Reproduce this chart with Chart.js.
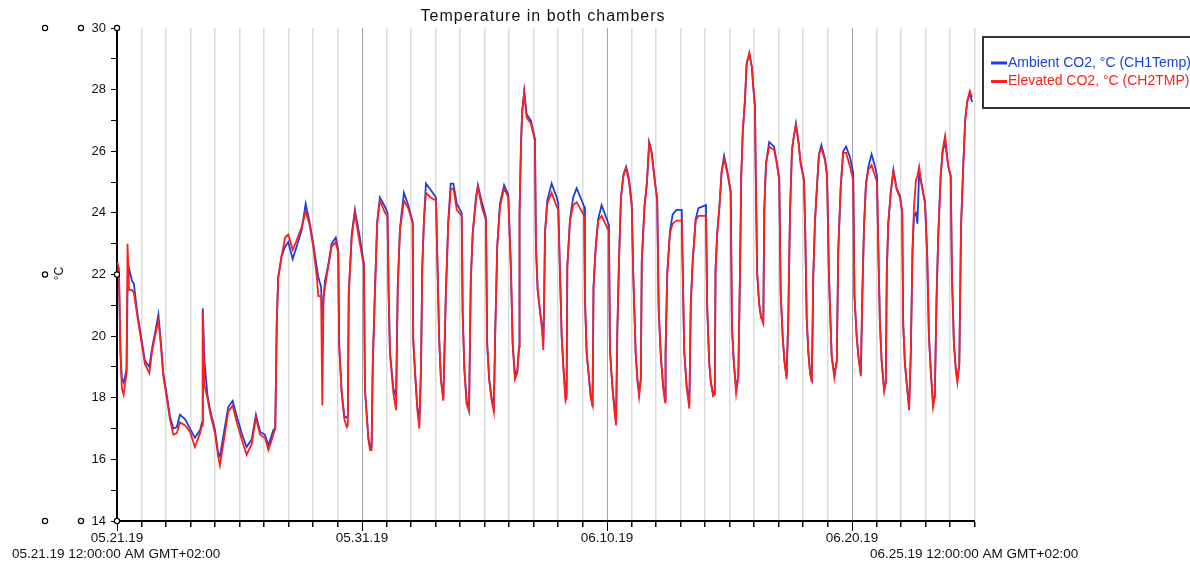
<!DOCTYPE html>
<html>
<head>
<meta charset="utf-8">
<title>Temperature in both chambers</title>
<script src="https://cdn.jsdelivr.net/npm/chart.js@4.4.1/dist/chart.umd.min.js"></script>
<style>
    html, body { margin: 0; padding: 0; background: #fff; }
    #wrap { width: 1190px; height: 562px; position: relative; }
</style>
</head>
<body>
<div id="wrap"><canvas id="tempChart" width="1190" height="562"></canvas></div>
<script>
// days since 05.21.19 00:00 (GMT+02:00)
const days = [
    0.01, 0.08, 0.14, 0.20, 0.27, 0.39, 0.43, 0.49, 0.61, 0.69,
    0.82, 0.94, 1.14, 1.32, 1.43, 1.55, 1.69, 1.78, 1.89, 2.03,
    2.16, 2.30, 2.44, 2.57, 2.78, 2.98, 3.18, 3.39, 3.47, 3.50,
    3.57, 3.69, 3.80, 4.00, 4.13, 4.20, 4.34, 4.54, 4.72, 4.89,
    5.09, 5.29, 5.50, 5.67, 5.84, 6.04, 6.18, 6.38, 6.46, 6.52,
    6.58, 6.72, 6.86, 6.99, 7.17, 7.33, 7.54, 7.70, 7.85, 8.01,
    8.15, 8.22, 8.33, 8.38, 8.43, 8.49, 8.62, 8.76, 8.93, 9.03,
    9.07, 9.17, 9.28, 9.38, 9.42, 9.46, 9.58, 9.71, 9.89, 10.08,
    10.12, 10.26, 10.33, 10.39, 10.44, 10.53, 10.62, 10.73, 10.94, 11.04,
    11.08, 11.14, 11.28, 11.39, 11.46, 11.55, 11.71, 11.89, 12.07, 12.09,
    12.19, 12.26, 12.34, 12.41, 12.46, 12.53, 12.61, 12.80, 13.02, 13.07,
    13.15, 13.22, 13.32, 13.42, 13.52, 13.62, 13.73, 13.87, 14.07, 14.11,
    14.18, 14.27, 14.37, 14.44, 14.52, 14.65, 14.73, 14.89, 15.06, 15.11,
    15.19, 15.29, 15.38, 15.44, 15.52, 15.63, 15.80, 15.97, 16.08, 16.15,
    16.24, 16.34, 16.41, 16.43, 16.49, 16.54, 16.62, 16.72, 16.89, 17.06,
    17.10, 17.17, 17.27, 17.34, 17.40, 17.43, 17.47, 17.56, 17.74, 17.95,
    18.01, 18.06, 18.15, 18.22, 18.31, 18.35, 18.38, 18.49, 18.62, 18.76,
    18.97, 19.07, 19.10, 19.17, 19.27, 19.33, 19.41, 19.45, 19.54, 19.64,
    19.78, 19.99, 20.08, 20.12, 20.22, 20.29, 20.37, 20.42, 20.49, 20.57,
    20.67, 20.78, 20.90, 21.01, 21.07, 21.17, 21.24, 21.31, 21.38, 21.42,
    21.53, 21.63, 21.72, 21.82, 21.96, 22.05, 22.11, 22.19, 22.29, 22.37,
    22.39, 22.46, 22.57, 22.68, 22.84, 23.05, 23.09, 23.15, 23.25, 23.36,
    23.42, 23.50, 23.62, 23.73, 24.04, 24.09, 24.17, 24.24, 24.33, 24.40,
    24.43, 24.50, 24.58, 24.68, 24.78, 24.91, 25.05, 25.10, 25.18, 25.27,
    25.36, 25.43, 25.48, 25.54, 25.63, 25.70, 25.81, 25.91, 25.97, 26.04,
    26.08, 26.13, 26.21, 26.29, 26.38, 26.42, 26.49, 26.62, 26.82, 26.93,
    27.03, 27.09, 27.17, 27.24, 27.33, 27.40, 27.47, 27.55, 27.63, 27.71,
    27.82, 27.90, 28.04, 28.09, 28.15, 28.22, 28.29, 28.36, 28.42, 28.49,
    28.57, 28.65, 28.75, 28.90, 28.98, 29.06, 29.17, 29.28, 29.38, 29.44,
    29.54, 29.64, 29.76, 29.92, 30.05, 30.10, 30.19, 30.26, 30.36, 30.42,
    30.49, 30.57, 30.67, 30.80, 30.94, 31.02, 31.07, 31.14, 31.21, 31.31,
    31.38, 31.42, 31.48, 31.58, 31.69, 31.82, 31.96, 32.05, 32.09, 32.16,
    32.26, 32.33, 32.40, 32.47, 32.53, 32.61, 32.67, 32.74, 32.85, 32.98,
    33.07, 33.14, 33.22, 33.31, 33.38, 33.45, 33.52, 33.62, 33.70, 33.80,
    33.93, 34.03, 34.08, 34.16, 34.24, 34.30, 34.38, 34.45, 34.54, 34.62,
    34.70, 34.81, 34.90
];

// Ambient CO2 chamber (CH1Temp)
const ambient = [
    22.2, 22.0, 19.5, 18.6, 18.5, 18.9, 21.5, 22.2, 21.8, 21.7,
    20.8, 20.2, 19.2, 19.0, 19.6, 20.1, 20.7, 19.9, 18.8, 18.1,
    17.4, 17.0, 17.05, 17.45, 17.3, 17.0, 16.7, 16.95, 17.2, 20.9,
    19.2, 18.1, 17.6, 16.95, 16.2, 16.1, 16.75, 17.7, 17.9, 17.4,
    16.85, 16.4, 16.65, 17.45, 16.9, 16.8, 16.45, 16.95, 17.0, 20.4,
    21.9, 22.6, 22.9, 23.05, 22.5, 22.9, 23.45, 24.3, 23.75, 23.0,
    22.25, 21.9, 21.6, 20.5, 21.2, 21.8, 22.3, 23.0, 23.2, 22.8,
    19.7, 18.2, 17.4, 17.35, 17.4, 21.4, 23.3, 24.1, 23.3, 22.35,
    18.3, 16.7, 16.4, 16.4, 19.1, 21.5, 23.7, 24.5, 24.2, 24.0,
    21.7, 19.5, 18.3, 18.05, 21.6, 23.5, 24.65, 24.25, 23.7, 19.9,
    18.5, 17.7, 17.2, 19.0, 22.25, 23.8, 24.95, 24.75, 24.5, 22.7,
    19.9, 18.6, 18.0, 21.3, 23.7, 24.95, 24.95, 24.3, 24.0, 20.7,
    18.9, 17.9, 17.7, 21.8, 23.35, 24.5, 24.9, 24.35, 23.85, 19.75,
    18.6, 18.0, 17.7, 20.2, 22.9, 24.3, 24.9, 24.6, 22.15, 19.75,
    18.75, 18.9, 19.65, 24.0, 26.25, 27.3, 27.95, 27.2, 27.0, 26.4,
    22.9, 21.5, 20.8, 20.4, 19.8, 20.95, 23.35, 24.4, 24.95, 24.5,
    24.3, 22.7, 20.0, 19.0, 18.0, 18.1, 22.25, 23.8, 24.5, 24.8,
    24.4, 24.2, 21.2, 19.45, 18.6, 18.1, 17.8, 21.6, 22.9, 23.8,
    24.25, 23.8, 23.6, 19.55, 18.35, 17.8, 17.2, 20.1, 22.45, 24.5,
    25.25, 25.5, 25.1, 24.3, 22.05, 19.45, 18.6, 18.15, 18.6, 22.45,
    24.2, 25.0, 26.3, 26.0, 25.0, 24.45, 20.85, 19.45, 18.4, 17.95,
    19.45, 22.05, 23.4, 23.95, 24.1, 24.1, 22.25, 19.55, 18.4, 17.8,
    21.05, 22.45, 23.8, 24.15, 24.25, 20.95, 19.15, 18.5, 18.15, 18.15,
    22.15, 23.35, 24.1, 25.35, 25.85, 25.35, 24.7, 20.3, 19.1, 18.3,
    18.7, 22.15, 25.2, 26.6, 27.65, 28.85, 29.15, 28.75, 28.1, 27.45,
    24.75, 22.05, 21.05, 20.6, 20.5, 24.1, 25.6, 26.3, 26.15, 25.65,
    25.1, 21.4, 20.0, 19.2, 18.7, 20.6, 24.0, 26.05, 26.5, 26.9,
    26.3, 25.65, 25.1, 23.45, 20.6, 19.45, 18.8, 18.6, 21.95, 23.75,
    24.85, 25.9, 26.2, 25.75, 25.25, 21.95, 19.35, 18.75, 19.2, 22.8,
    24.85, 26.0, 26.15, 25.8, 25.3, 21.3, 20.0, 19.35, 18.8, 21.3,
    23.55, 24.95, 25.5, 25.9, 25.5, 25.2, 23.0, 20.4, 19.2, 18.3,
    18.5, 22.05, 23.65, 24.65, 25.4, 24.8, 24.55, 24.0, 20.4, 19.1,
    18.25, 17.7, 19.45, 22.8, 23.9, 24.0, 23.65, 25.3, 24.9, 24.35,
    22.6, 20.0, 18.8, 17.8, 18.05, 21.2, 23.25, 25.2, 26.0, 26.3,
    25.5, 25.2, 21.95, 19.75, 18.9, 18.6, 19.1, 23.55, 25.5, 27.0,
    27.6, 27.9, 27.6
];

// Elevated CO2 chamber (CH2TMP)
const elevated = [
    22.4, 22.2, 19.4, 18.3, 18.1, 18.8, 23.0, 21.5, 21.5, 21.4,
    20.7, 20.1, 19.1, 18.8, 19.5, 20.0, 20.5, 19.8, 18.7, 18.0,
    17.3, 16.8, 16.85, 17.2, 17.1, 16.9, 16.4, 16.85, 17.1, 20.8,
    18.4, 18.0, 17.5, 16.85, 16.1, 15.8, 16.5, 17.55, 17.75, 17.2,
    16.65, 16.15, 16.5, 17.35, 16.8, 16.7, 16.3, 16.8, 17.0, 20.4,
    21.9, 22.6, 23.2, 23.3, 22.8, 23.1, 23.55, 24.05, 23.65, 22.9,
    21.95, 21.3, 21.3, 17.75, 21.3, 21.6, 22.25, 22.9, 23.05, 22.7,
    19.65, 18.15, 17.3, 17.05, 17.1, 21.4, 23.2, 24.0, 23.1, 22.25,
    18.25, 16.65, 16.3, 16.3, 19.1, 21.5, 23.65, 24.4, 24.0, 23.9,
    21.7, 19.45, 18.15, 17.6, 21.6, 23.45, 24.4, 24.15, 23.65, 19.9,
    18.5, 17.6, 17.0, 19.0, 22.25, 23.75, 24.65, 24.5, 24.4, 22.7,
    19.9, 18.6, 17.9, 21.3, 23.65, 24.75, 24.8, 24.1, 23.9, 20.7,
    18.9, 17.8, 17.55, 21.8, 23.35, 24.4, 24.85, 24.2, 23.75, 19.75,
    18.6, 17.9, 17.55, 20.2, 22.9, 24.2, 24.8, 24.5, 22.15, 19.75,
    18.6, 18.8, 19.65, 24.0, 26.25, 27.3, 27.9, 27.1, 26.9, 26.35,
    22.9, 21.5, 20.75, 20.3, 19.55, 20.95, 23.35, 24.3, 24.65, 24.2,
    24.1, 22.7, 20.0, 19.0, 17.9, 18.0, 22.25, 23.75, 24.25, 24.35,
    24.05, 23.9, 21.2, 19.45, 18.6, 18.05, 17.7, 21.6, 22.9, 23.75,
    23.9, 23.55, 23.4, 19.55, 18.35, 17.7, 17.1, 20.1, 22.45, 24.5,
    25.2, 25.45, 25.0, 24.2, 22.05, 19.45, 18.6, 18.05, 18.6, 22.45,
    24.2, 24.95, 26.25, 25.95, 24.95, 24.4, 20.85, 19.45, 18.35, 17.85,
    19.45, 22.05, 23.35, 23.65, 23.75, 23.75, 22.25, 19.55, 18.35, 17.65,
    21.05, 22.45, 23.75, 23.9, 23.9, 20.95, 19.15, 18.5, 18.05, 18.1,
    22.15, 23.35, 24.1, 25.35, 25.75, 25.3, 24.65, 20.3, 19.1, 18.15,
    18.7, 22.15, 25.2, 26.6, 27.65, 28.85, 29.2, 28.75, 28.1, 27.45,
    24.75, 22.05, 21.05, 20.6, 20.4, 24.1, 25.6, 26.15, 26.05, 25.6,
    25.05, 21.4, 20.0, 19.2, 18.6, 20.6, 24.0, 26.05, 26.5, 26.85,
    26.25, 25.6, 25.05, 23.45, 20.6, 19.45, 18.8, 18.5, 21.95, 23.75,
    24.85, 25.9, 26.1, 25.7, 25.2, 21.95, 19.35, 18.65, 19.2, 22.8,
    24.85, 25.95, 25.95, 25.5, 25.05, 21.3, 20.0, 19.35, 18.7, 21.3,
    23.55, 24.95, 25.4, 25.55, 25.2, 25.0, 23.0, 20.4, 19.2, 18.2,
    18.5, 22.05, 23.65, 24.65, 25.35, 24.75, 24.5, 24.0, 20.4, 19.1,
    18.25, 17.6, 19.45, 22.8, 24.2, 25.05, 25.2, 25.5, 24.85, 24.3,
    22.6, 20.0, 18.8, 17.7, 18.05, 21.2, 23.25, 25.2, 26.05, 26.5,
    25.5, 25.2, 21.95, 19.75, 18.9, 18.5, 19.1, 23.55, 25.5, 27.0,
    27.6, 27.95, 27.75
];

const seriesLabels = ['Ambient CO2, °C (CH1Temp)', 'Elevated CO2, °C (CH2TMP)'];
const seriesColors = ['#1c3fd8', '#ff1e1e'];

// x axis: major ticks every 10 days
const majorDays = [0, 10, 20, 30];
const majorLabels = ['05.21.19', '05.31.19', '06.10.19', '06.20.19'];
const startStamp = '05.21.19 12:00:00 AM GMT+02:00';
const endStamp = '06.25.19 12:00:00 AM GMT+02:00';
const chartTitle = 'Temperature in both chambers';
const yUnit = '°C';

const FONT = '"Liberation Sans", Arial, sans-serif';

// 装饰：标题、图例框、小圆圈、时间戳
const decor = {
    id: 'decor',
    afterDraw(chart) {
        const ctx = chart.ctx;
        const area = chart.chartArea;
        const xs = chart.scales.x;
        const ys = chart.scales.y;
        ctx.save();

        // longer ticks at the 10-day marks
        ctx.strokeStyle = '#000';
        ctx.lineWidth = 1;
        majorDays.forEach(d => {
            const px = Math.round(xs.getPixelForValue(d)) + 0.5;
            ctx.beginPath();
            ctx.moveTo(px, area.bottom);
            ctx.lineTo(px, area.bottom + 10);
            ctx.stroke();
        });

        // small circles
        const yTop = ys.getPixelForValue(30);
        const yMid = ys.getPixelForValue(22);
        const yBot = ys.getPixelForValue(14);
        const circles = [[45, yTop], [81, yTop], [area.left, yTop], [45, yMid], [area.left, yMid],
                         [45, yBot], [81, yBot], [area.left, yBot]];
        ctx.lineWidth = 1.2;
        circles.forEach(([cx, cy]) => {
            ctx.beginPath();
            ctx.arc(cx, cy, 2.6, 0, Math.PI * 2);
            ctx.fillStyle = '#fff';
            ctx.fill();
            ctx.stroke();
        });

        // unit label
        ctx.fillStyle = '#111';
        ctx.font = '12px ' + FONT;
        ctx.textAlign = 'center';
        ctx.textBaseline = 'middle';
        ctx.save();
        ctx.translate(60, yMid - 1);
        ctx.rotate(-Math.PI / 2);
        ctx.fillText(yUnit, 0, 0);
        ctx.restore();

        // start / end stamps
        ctx.font = '13.5px ' + FONT;
        ctx.textAlign = 'left';
        ctx.fillText(startStamp, 12, 554);
        ctx.fillText(endStamp, 870, 554);

        // title
        ctx.font = '16px ' + FONT;
        ctx.textAlign = 'center';
        ctx.letterSpacing = '1px';
        ctx.fillText(chartTitle, 543, 17);
        ctx.letterSpacing = '0px';

        // legend box
        ctx.strokeStyle = '#333';
        ctx.lineWidth = 2;
        ctx.strokeRect(983, 37, 300, 71);
        ctx.font = '14px ' + FONT;
        ctx.textAlign = 'left';
        chart.data.datasets.forEach((ds, i) => {
            const ly = 63 + i * 18.5;
            ctx.strokeStyle = ds.borderColor;
            ctx.lineWidth = 3;
            ctx.beginPath();
            ctx.moveTo(991, ly);
            ctx.lineTo(1007, ly);
            ctx.stroke();
            ctx.fillStyle = ds.borderColor;
            ctx.fillText(ds.label, 1008, ly);
        });
        ctx.restore();
    }
};

const toPoints = values => days.map((d, i) => ({ x: d, y: values[i] }));

new Chart(document.getElementById('tempChart'), {
    type: 'line',
    data: {
        datasets: [{
            label: seriesLabels[0],
            data: toPoints(ambient),
            borderColor: seriesColors[0],
            borderWidth: 1.8,
            pointRadius: 0,
            tension: 0,
            order: 2
        }, {
            label: seriesLabels[1],
            data: toPoints(elevated),
            borderColor: seriesColors[1],
            borderWidth: 1.8,
            pointRadius: 0,
            tension: 0,
            order: 1
        }]
    },
    options: {
        responsive: false,
        animation: false,
        devicePixelRatio: 1,
        layout: {
            padding: { left: 0, top: 28, right: 215.5, bottom: 0 }
        },
        plugins: {
            legend: { display: false },
            title: { display: false },
            tooltip: { enabled: false }
        },
        scales: {
            x: {
                type: 'linear',
                min: 0,
                max: 35,
                afterFit: scale => { scale.height = 41; },
                ticks: {
                    stepSize: 1,
                    autoSkip: false,
                    maxRotation: 0,
                    padding: 3,
                    color: '#111',
                    font: { family: FONT, size: 13.5 },
                    callback: v => {
                        const i = majorDays.indexOf(v);
                        return i >= 0 ? majorLabels[i] : '';
                    }
                },
                grid: {
                    color: c => majorDays.includes(c.tick && c.tick.value) ? '#a6a6a6' : '#dcdcdc',
                    lineWidth: c => majorDays.includes(c.tick && c.tick.value) ? 1 : 1.5,
                    tickColor: '#000',
                    tickLength: 6
                },
                border: { color: '#000', width: 2 }
            },
            y: {
                min: 14,
                max: 30,
                afterFit: scale => { scale.width = 117; },
                ticks: {
                    stepSize: 1,
                    padding: 5,
                    color: '#111',
                    font: { family: FONT, size: 13 },
                    callback: v => (v % 2 === 0 ? v : '')
                },
                grid: {
                    drawOnChartArea: false,
                    tickColor: '#000',
                    tickLength: 6
                },
                border: { color: '#000', width: 2 }
            }
        }
    },
    plugins: [decor]
});
</script>
</body>
</html>
